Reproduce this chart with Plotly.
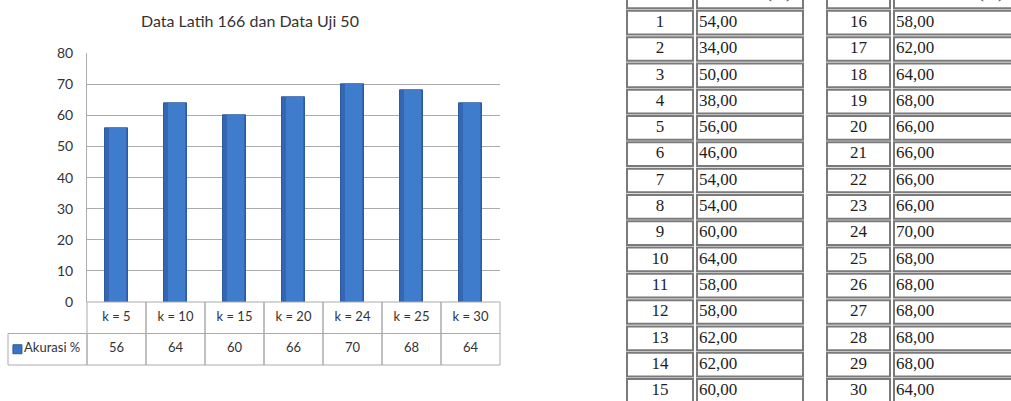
import plotly.graph_objects as go

# ---------------- data ----------------
chart_title = "Data Latih 166 dan Data Uji 50"
k_labels = ["k = 5", "k = 10", "k = 15", "k = 20", "k = 24", "k = 25", "k = 30"]
akurasi = [56, 64, 60, 66, 70, 68, 64]
series_name = "Akurasi %"
y_ticks = [0, 10, 20, 30, 40, 50, 60, 70, 80]

header = ["Nilai k", "Akurasi (%)"]
k_left = list(range(1, 16))
acc_left = ["54,00", "34,00", "50,00", "38,00", "56,00", "46,00", "54,00", "54,00",
            "60,00", "64,00", "58,00", "58,00", "62,00", "62,00", "60,00"]
k_right = list(range(16, 31))
acc_right = ["58,00", "62,00", "64,00", "68,00", "66,00", "66,00", "66,00", "66,00",
             "70,00", "68,00", "68,00", "68,00", "68,00", "68,00", "64,00"]

# ---------------- layout helpers ----------------
W, H = 1011, 401
def fx(p):
    return p / W
def fy(p):
    return 1 - p / H

BAR = "#3A73C1"
BAR_DARK = "#3467B3"
BAR_LIGHT = "#3F7DCC"
BAR_EDGE = "#2C5A9C"
GRID = "#ABABAB"
TXT = "#333333"
CAL = "Lato"
SERIF = "Liberation Serif"
CELL_LINE = "#7A7A7A"

n = len(k_labels)
plot_l, plot_r = 87, 500
ppu = (plot_r - plot_l) / n
legend_left = -0.5 - (plot_l - 8) / ppu

fig = go.Figure()

# bars (darker body + lighter centre to suggest the Excel gradient)
fig.add_trace(go.Bar(x=list(range(n)), y=akurasi, width=0.4,
                     marker=dict(color=BAR_DARK, line=dict(color=BAR_EDGE, width=1)),
                     xaxis="x", yaxis="y", hoverinfo="skip", showlegend=False))
fig.add_trace(go.Bar(x=list(range(n)), y=akurasi, width=0.28, offset=-0.12,
                     marker=dict(color=BAR_LIGHT, line=dict(width=0)),
                     xaxis="x", yaxis="y", hoverinfo="skip", showlegend=False))

# chart data table (x2/y2): rows 0..1 data row, 1..2 category row
fig.add_trace(go.Scatter(x=list(range(n)), y=[1.5] * n, text=k_labels, mode="text",
                         textfont=dict(family=CAL, size=13, color=TXT),
                         xaxis="x2", yaxis="y2", hoverinfo="skip", showlegend=False))
fig.add_trace(go.Scatter(x=list(range(n)), y=[0.5] * n, text=[str(v) for v in akurasi],
                         mode="text", textfont=dict(family=CAL, size=13, color=TXT),
                         xaxis="x2", yaxis="y2", hoverinfo="skip", showlegend=False))
fig.add_trace(go.Scatter(x=[legend_left + 0.16], y=[0.5], text=[series_name],
                         mode="markers+text", textposition="middle right",
                         marker=dict(symbol="square", size=9, color=BAR,
                                     line=dict(color=BAR_EDGE, width=1)),
                         textfont=dict(family=CAL, size=13, color=TXT),
                         xaxis="x2", yaxis="y2", hoverinfo="skip", showlegend=False))

shapes = []
for i in range(n):
    for (y0, y1) in [(1, 2), (0, 1)]:
        shapes.append(dict(type="rect", xref="x2", yref="y2", x0=i - 0.5, x1=i + 0.5,
                           y0=y0, y1=y1, line=dict(color=GRID, width=1)))
shapes.append(dict(type="rect", xref="x2", yref="y2", x0=legend_left, x1=-0.5,
                   y0=0, y1=1, line=dict(color=GRID, width=1)))

# right-hand tables (x3/y3), x in pixel-like units, y = row index
col_k = [(627, 693), (827, 890)]
col_v = [(697, 803), (894, 1030)]
half = 0.45
tables = [(k_left, acc_left), (k_right, acc_right)]
for t, (ks, vs) in enumerate(tables):
    for r in range(0, len(ks) + 1):
        for (a, b) in (col_k[t], col_v[t]):
            shapes.append(dict(type="rect", xref="x3", yref="y3", x0=a, x1=b,
                               y0=r - half, y1=r + half, layer="below",
                               line=dict(color=CELL_LINE, width=2)))
    kc = (col_k[t][0] + col_k[t][1]) / 2
    vc = (col_v[t][0] + col_v[t][1]) / 2
    fig.add_trace(go.Scatter(x=[kc] * len(ks), y=list(range(1, len(ks) + 1)),
                             text=[str(k) for k in ks], mode="text",
                             textfont=dict(family=SERIF, size=17, color="#1E1E1E"),
                             xaxis="x3", yaxis="y3", hoverinfo="skip", showlegend=False))
    fig.add_trace(go.Scatter(x=[col_v[t][0] + 2] * len(vs), y=list(range(1, len(vs) + 1)),
                             text=vs, mode="text", textposition="middle right",
                             textfont=dict(family=SERIF, size=17, color="#1E1E1E"),
                             xaxis="x3", yaxis="y3", hoverinfo="skip", showlegend=False))
    fig.add_trace(go.Scatter(x=[kc, vc], y=[-0.12, -0.12], text=header, mode="text",
                             textfont=dict(family=SERIF, size=17, color="#1E1E1E"),
                             xaxis="x3", yaxis="y3", hoverinfo="skip", showlegend=False))

# title
annotations = [dict(text=chart_title, x=fx(250), y=fy(20), xref="paper", yref="paper",
                    xanchor="center", yanchor="middle",
                    showarrow=False, font=dict(family=CAL, size=16, color=TXT))]

row0_pix, pitch = 22.7, 26.3
y3_top = (0 - row0_pix) / pitch + 1
y3_bot = (H - row0_pix) / pitch + 1

pad = 0.1
y2_ppu = (365 - 302) / 2

fig.update_layout(
    width=W, height=H, margin=dict(l=0, r=0, t=0, b=0, autoexpand=False),
    paper_bgcolor="white", plot_bgcolor="rgba(0,0,0,0)",
    showlegend=False, barmode="overlay", bargap=0,
    shapes=shapes, annotations=annotations,
    xaxis=dict(domain=[fx(plot_l), fx(plot_r)], range=[-0.5, n - 0.5],
               showgrid=False, zeroline=False, showticklabels=False, showline=False,
               fixedrange=True),
    yaxis=dict(domain=[fy(302), fy(53.3)], range=[0, 80], tickvals=y_ticks,
               showgrid=True, gridcolor=GRID, gridwidth=1, zeroline=False,
               showline=True, linecolor=GRID, linewidth=1, ticks="",
               ticklabelstandoff=10,
               tickfont=dict(family=CAL, size=14, color=TXT), fixedrange=True),
    xaxis2=dict(domain=[fx(8 - pad * ppu), fx(plot_r + pad * ppu)],
                range=[legend_left - pad, n - 0.5 + pad], anchor="y2",
                visible=False, fixedrange=True),
    yaxis2=dict(domain=[fy(365 + pad * y2_ppu), fy(302 - pad * y2_ppu)],
                range=[-pad, 2 + pad], anchor="x2", visible=False, fixedrange=True),
    xaxis3=dict(domain=[fx(612), 1], range=[612, W], anchor="y3",
                visible=False, fixedrange=True),
    yaxis3=dict(domain=[0, 1], range=[y3_bot, y3_top], anchor="x3",
                visible=False, fixedrange=True),
)

fig.write_html("out.html", config={"displayModeBar": False},
               post_script="document.body.style.margin='0';document.body.style.overflow='hidden';")
